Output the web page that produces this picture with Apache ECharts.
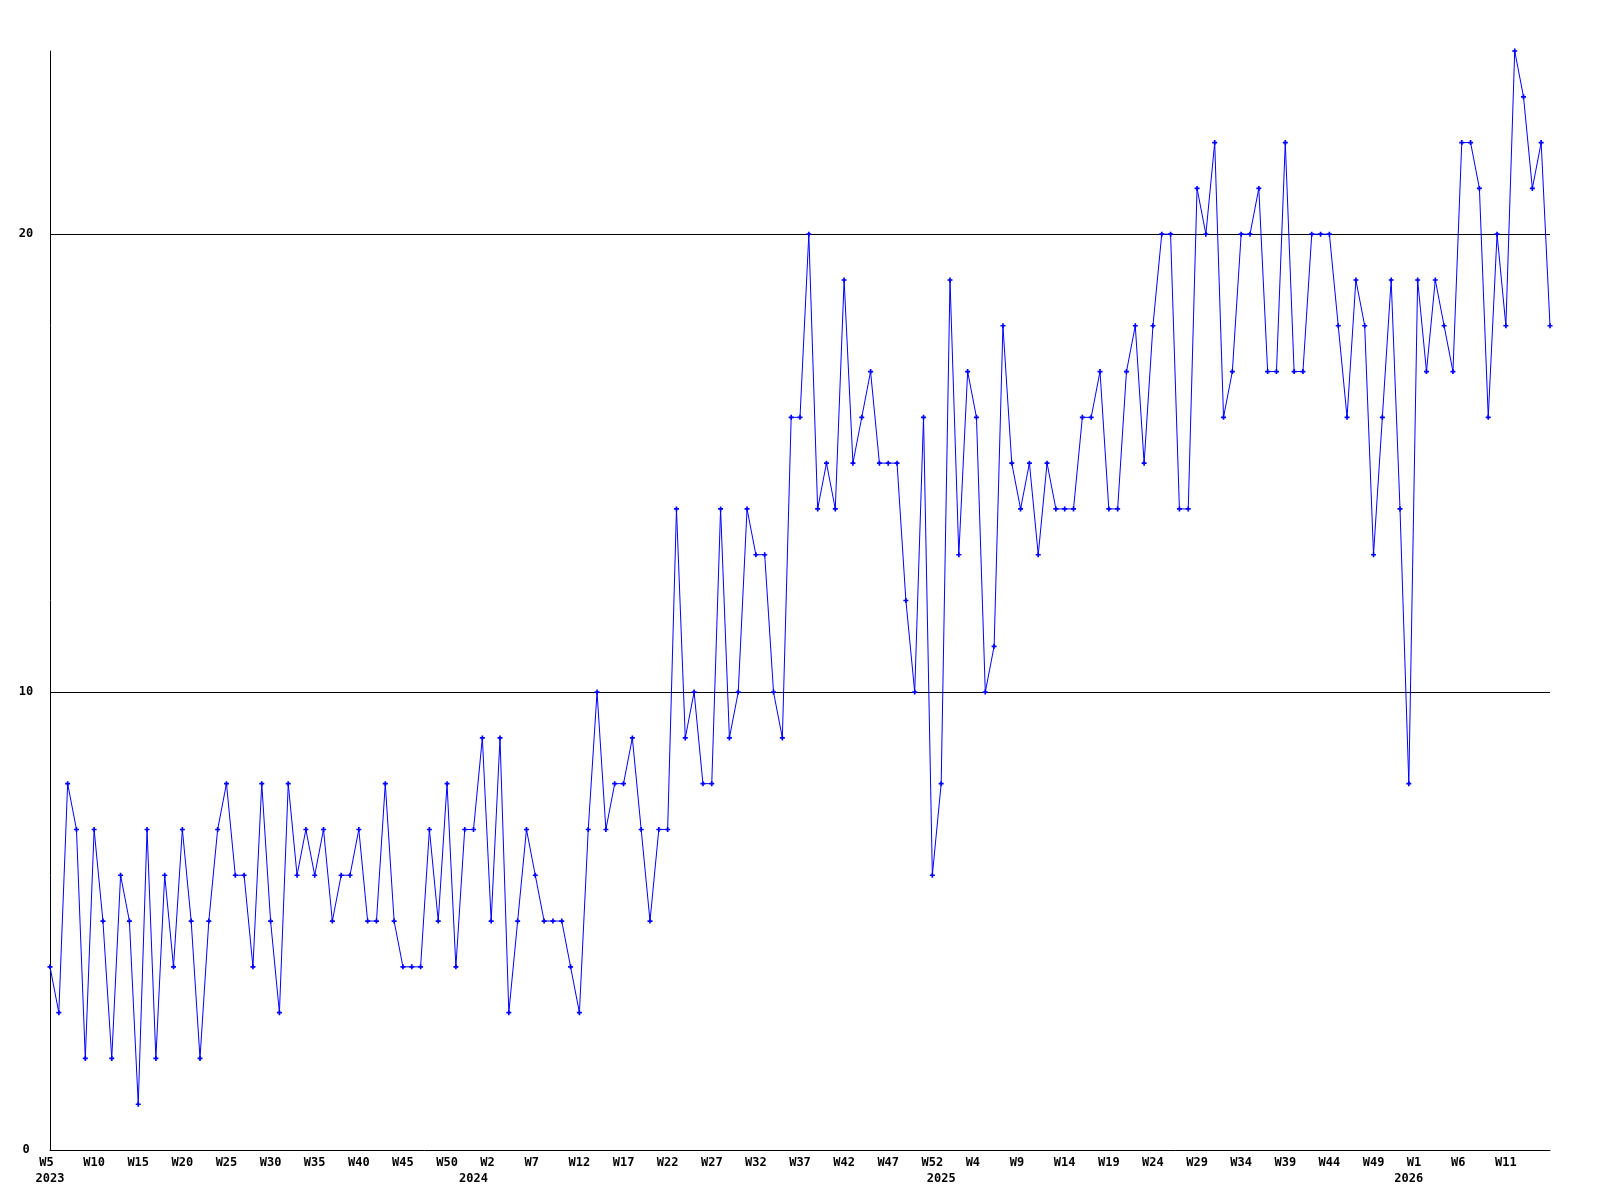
<!DOCTYPE html>
<html>
<head>
<meta charset="utf-8">
<script src="https://cdn.jsdelivr.net/npm/echarts@6/dist/echarts.min.js"></script>
<style>
html,body{margin:0;padding:0;background:#fff;}
#chart{width:1600px;height:1200px;}
</style>
</head>
<body>
<div id="chart"></div>
<script>
// Weekly values, W5 2023 .. W16 2026 (one per point)
const values = [
  4,3,8,7,2,7,5,2,6,5,1,7,2,6,4,7,5,2,5,7,8,6,6,4,8,5,3,8,6,
  7,6,7,5,6,6,7,5,5,8,5,4,4,4,7,5,8,4,7,7,9,5,9,3,5,7,6,5,
  5,5,4,3,7,10,7,8,8,9,7,5,7,7,14,9,10,8,8,14,9,10,14,13,13,10,9,
  16,16,20,14,15,14,19,15,16,17,15,15,15,12,10,16,6,8,19,13,17,16,10,11,18,15,14,15,13,15,
  14,14,14,16,16,17,14,14,17,18,15,18,20,20,14,14,21,20,22,16,17,20,20,21,17,17,22,17,
  17,20,20,20,18,16,19,18,13,16,19,14,8,19,17,19,18,17,22,22,21,16,20,18,24,23,21,22,18
];
// Week tick labels, one for every 5th point
const weekTickLabels = [
  'W5','W10','W15','W20','W25','W30','W35','W40','W45','W50',
  'W2','W7','W12','W17','W22','W27','W32','W37','W42','W47','W52',
  'W4','W9','W14','W19','W24','W29','W34','W39','W44','W49',
  'W1','W6','W11'
];
const weekTickStep = 5;
// Year labels and the point each one sits under
const yearTickLabels = ['2023','2024','2025','2026'];
const yearTickPoints = [0, 48, 101, 154];
const yTicks = [0, 10, 20];

const categories = values.map((_, i) => i);
const FONT = '"DejaVu Sans Mono", "Liberation Mono", monospace';

const chart = echarts.init(document.getElementById('chart'), null, {renderer: 'canvas'});
chart.setOption({
  animation: false,
  backgroundColor: '#ffffff',
  grid: {left: 50, right: 50, top: 51, bottom: 50, containLabel: false},
  xAxis: [
    {
      type: 'category',
      data: categories,
      boundaryGap: false,
      position: 'bottom',
      axisLine: {show: true, lineStyle: {color: '#000', width: 1}},
      axisTick: {show: false},
      splitLine: {show: false},
      axisLabel: {
        interval: (i) => i % weekTickStep === 0,
        formatter: (v, i) => {
          const idx = Number(v);
          if (idx % weekTickStep !== 0) return '';
          const s = weekTickLabels[idx / weekTickStep] || '';
          return s.length < 3 ? s + ' ' : s;
        },
        color: '#000', fontFamily: FONT, fontSize: 12, fontWeight: 'bold', margin: 7
      }
    },
    {
      type: 'category',
      data: categories,
      boundaryGap: false,
      position: 'bottom',
      offset: 16,
      axisLine: {show: false},
      axisTick: {show: false},
      splitLine: {show: false},
      axisLabel: {
        interval: (i) => yearTickPoints.indexOf(i) >= 0,
        formatter: (v) => {
          const k = yearTickPoints.indexOf(Number(v));
          return k >= 0 ? yearTickLabels[k] : '';
        },
        color: '#000', fontFamily: FONT, fontSize: 12, fontWeight: 'bold', margin: 7
      }
    }
  ],
  yAxis: {
    type: 'value',
    min: 0,
    max: 24,
    interval: 10,
    axisLine: {show: true, lineStyle: {color: '#000', width: 1}},
    axisTick: {show: false},
    splitLine: {show: true, showMinLine: false, showMaxLine: false, lineStyle: {color: '#000', width: 1}},
    axisLabel: {
      showMaxLabel: false,
      formatter: (v) => (yTicks.indexOf(v) >= 0 ? String(v) : ''),
      align: 'center',
      margin: 24,
      color: '#000', fontFamily: FONT, fontSize: 12, fontWeight: 'bold'
    }
  },
  series: [{
    type: 'line',
    data: values,
    xAxisIndex: 0,
    symbol: 'path://M1,0H2V1H3V2H2V3H1V2H0V1H1Z',
    symbolSize: 5,
    showAllSymbol: true,
    lineStyle: {color: '#0000ff', width: 1},
    itemStyle: {color: '#0000ff', borderWidth: 0},
    emphasis: {disabled: true}
  }]
});
</script>
</body>
</html>
